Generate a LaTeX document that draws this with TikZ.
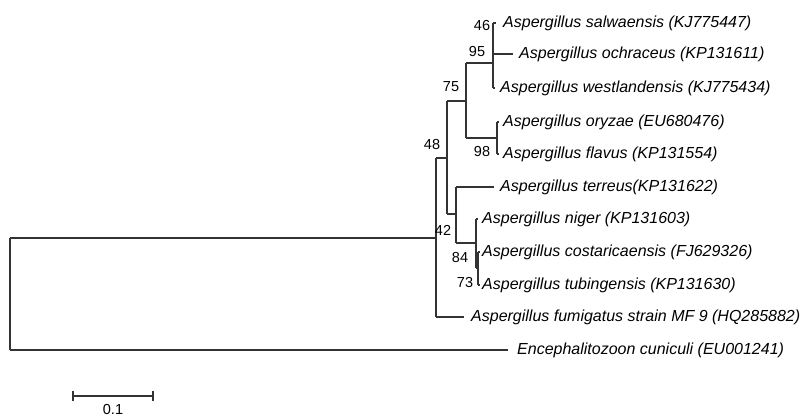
\documentclass[tikz,border=0pt]{standalone}
\usepackage{fontspec}
\setmainfont{Liberation Sans}
\begin{document}
\begin{tikzpicture}[x=1pt,y=-1pt,
  br/.style={draw=black!80, line width=1.2pt},
  taxon/.style={anchor=west, inner sep=0pt, font=\fontsize{16}{18}\selectfont\itshape},
  boot/.style={inner sep=0pt, font=\fontsize{14.5}{16}\selectfont}]
\clip (0,0) rectangle (808,417);
\fill[white] (0,0) rectangle (808,417);
% internal nodes
\coordinate (root) at (10,294);
\coordinate (n48) at (436,238);
\coordinate (nA) at (447,158);
\coordinate (n75) at (466,101);
\coordinate (n95) at (493,63);
\coordinate (n46) at (493,38);
\coordinate (n98) at (497,138);
\coordinate (nB) at (456,214);
\coordinate (n84) at (476,243);
\coordinate (n73) at (478,268);
% tips
\coordinate (tsal) at (496,23);
\coordinate (toch) at (513,54);
\coordinate (twes) at (495,88);
\coordinate (tory) at (499,122);
\coordinate (tfla) at (499,154);
\coordinate (tter) at (494,187);
\coordinate (tnig) at (478,219);
\coordinate (tcos) at (480,252);
\coordinate (ttub) at (480,285);
\coordinate (tfum) at (464,317);
\coordinate (tenc) at (508,350);
% taxa
\node[taxon] (sal) at (503,23) {Aspergillus salwaensis (KJ775447)};
\node[taxon] (och) at (519,54) {Aspergillus ochraceus (KP131611)};
\node[taxon] (wes) at (500,88) {Aspergillus westlandensis (KJ775434)};
\node[taxon] (ory) at (503,122) {Aspergillus oryzae (EU680476)};
\node[taxon] (fla) at (503,154) {Aspergillus flavus (KP131554)};
\node[taxon] (ter) at (500,187) {Aspergillus terreus(KP131622)};
\node[taxon] (nig) at (482,219) {Aspergillus niger (KP131603)};
\node[taxon] (cos) at (482,252) {Aspergillus costaricaensis (FJ629326)};
\node[taxon] (tub) at (482,285) {Aspergillus tubingensis (KP131630)};
\node[taxon] (fum) at (471,317) {Aspergillus fumigatus strain MF 9 (HQ285882)};
\node[taxon] (enc) at (517,350) {Encephalitozoon cuniculi (EU001241)};
% branches
\draw[br] (root |- n48) -- (root |- tenc);
\draw[br] (root |- n48) -- (n48);
\draw[br] (root |- tenc) -- (tenc);
\draw[br] (n48 |- nA) -- (n48 |- tfum);
\draw[br] (n48 |- nA) -- (nA);
\draw[br] (n48 |- tfum) -- (tfum);
\draw[br] (nA |- n75) -- (nA |- nB);
\draw[br] (nA |- n75) -- (n75);
\draw[br] (nA |- nB) -- (nB);
\draw[br] (n75 |- n95) -- (n75 |- n98);
\draw[br] (n75 |- n95) -- (n95);
\draw[br] (n75 |- n98) -- (n98);
\draw[br] (n95 |- n46) -- (n95 |- twes);
\draw[br] (n95 |- twes) -- (twes);
\draw[br] (n46 |- tsal) -- (n46 |- toch);
\draw[br] (n46 |- tsal) -- (tsal);
\draw[br] (n46 |- toch) -- (toch);
\draw[br] (n98 |- tory) -- (n98 |- tfla);
\draw[br] (n98 |- tory) -- (tory);
\draw[br] (n98 |- tfla) -- (tfla);
\draw[br] (nB |- tter) -- (nB |- n84);
\draw[br] (nB |- tter) -- (tter);
\draw[br] (nB |- n84) -- (n84);
\draw[br] (n84 |- tnig) -- (n84 |- n73);
\draw[br] (n84 |- tnig) -- (tnig);
\draw[br] (n84 |- n73) -- (n73);
\draw[br] (n73 |- tcos) -- (n73 |- ttub);
\draw[br] (n73 |- tcos) -- (tcos);
\draw[br] (n73 |- ttub) -- (ttub);
% bootstrap values
\node[boot] (b46) at (482,26) {46};
\node[boot] (b95) at (477,52) {95};
\node[boot] (b75) at (451,87) {75};
\node[boot] (b98) at (482,152) {98};
\node[boot] (b48) at (432,145) {48};
\node[boot] (b42) at (443,230) {42};
\node[boot] (b84) at (460,258) {84};
\node[boot] (b73) at (465,283) {73};
% scale bar
\coordinate (sbl) at (73,396);
\coordinate (sbr) at (153,396);
\draw[br] (sbl) -- (sbr);
\draw[br] ([yshift=-5pt]sbl) -- ([yshift=5pt]sbl);
\draw[br] ([yshift=-5pt]sbr) -- ([yshift=5pt]sbr);
\node[boot, anchor=north] (sblab) at (113,404) {0.1};
\end{tikzpicture}
\end{document}
